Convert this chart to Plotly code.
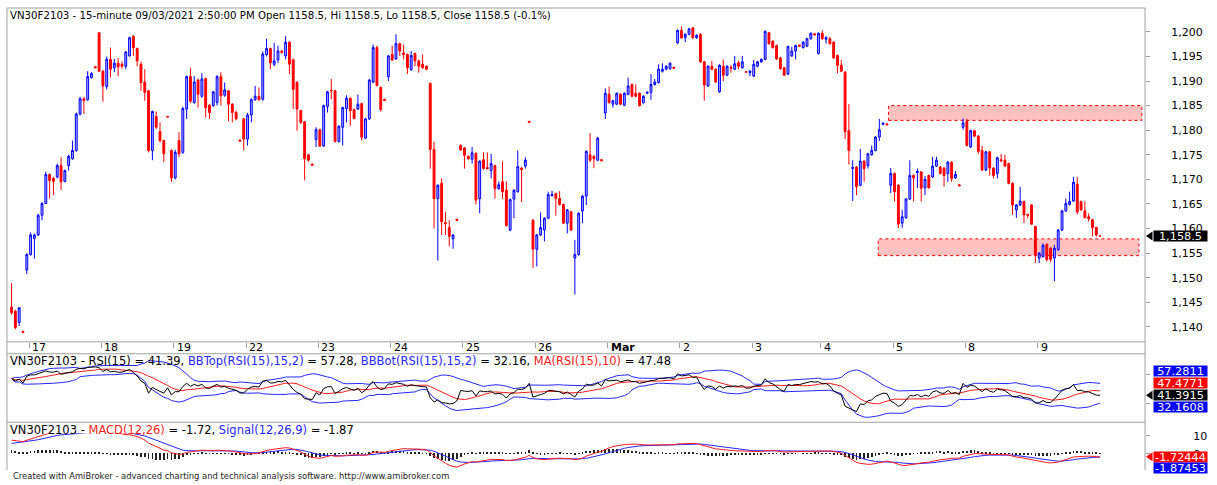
import numpy as np
import pandas as pd
import plotly.graph_objects as go

# ---------------- data (15-minute bars, VN30F2103) ----------------
OPEN = [
    1144.0, 1143.2, 1140.9, 1139.1,
    1151.6, 1154.7, 1158.0, 1158.7, 1162.7, 1165.1, 1171.0, 1170.2, 1170.5, 1172.8, 1169.6, 1172.8, 1174.2, 1175.9, 1183.3, 1186.4, 1186.2, 1190.7, 1192.9,
    1199.8, 1192.0, 1188.9, 1194.4, 1192.7, 1193.6, 1193.4, 1193.0, 1195.1, 1199.1, 1196.6, 1193.4, 1189.8, 1188.0, 1175.9, 1182.8, 1179.7, 1177.9, 1182.8,
    1175.9, 1170.3, 1177.9, 1175.5, 1184.3, 1190.9, 1185.6, 1190.2, 1186.9, 1190.5, 1185.1, 1185.0, 1185.6, 1190.9, 1187.1, 1188.0, 1185.3, 1183.6, 1178.0,
    1182.3, 1178.2, 1183.1, 1186.2, 1186.9, 1186.3, 1195.4, 1196.6, 1193.4, 1194.3, 1196.1, 1195.1, 1197.9, 1194.3, 1189.7, 1184.0, 1181.7, 1175.0, 1173.1,
    1178.1, 1180.1, 1176.8, 1184.8, 1188.1, 1188.0, 1177.7, 1180.6, 1184.4, 1186.5, 1184.2, 1184.3, 1185.4, 1178.4, 1182.3, 1189.8, 1196.8, 1188.7, 1186.3,
    1190.9, 1195.4, 1194.5, 1197.6, 1195.7, 1195.4, 1192.3, 1195.6, 1194.1, 1193.4, 1193.0, 1189.5, 1176.1, 1166.1, 1169.2, 1161.2, 1160.2, 1157.9, 1161.9,
    1176.9, 1176.4, 1174.7, 1174.1, 1175.3, 1166.1, 1174.0, 1172.4, 1171.8, 1172.8, 1168.1, 1169.5, 1167.8, 1159.7, 1166.0, 1167.5, 1172.3, 1172.7, 1181.8,
    1161.7, 1155.8, 1158.7, 1159.7, 1162.1, 1166.7, 1167.1, 1166.1, 1164.9, 1161.1, 1163.4, 1154.0, 1154.7, 1163.6, 1166.6, 1175.0, 1174.7, 1173.9, 1174.0,
    1183.5, 1187.3, 1185.3, 1185.3, 1187.3, 1185.1, 1187.3, 1189.3, 1187.5, 1187.5, 1185.6, 1187.5, 1187.7, 1189.3, 1189.7, 1192.0, 1192.4, 1192.5, 1192.8,
    1197.8, 1200.3, 1198.8, 1199.5, 1200.8, 1198.8, 1199.5, 1193.9, 1189.0, 1193.0, 1192.4, 1187.8, 1193.0, 1191.2, 1192.8, 1192.4, 1193.7, 1192.7, 1191.9,
    1191.7, 1191.0, 1193.0, 1193.9, 1194.4, 1199.8, 1198.1, 1197.2, 1194.7, 1192.7, 1191.4, 1195.1, 1196.1, 1197.3, 1196.8, 1197.1, 1198.6, 1199.6,
    1195.6, 1199.7, 1198.5, 1198.6, 1197.9, 1195.2, 1193.2, 1191.8, 1179.9, 1172.2, 1172.5, 1168.8, 1173.7, 1172.8, 1175.0, 1175.9, 1178.6, 1181.2, 1181.3,
    1168.8, 1171.2, 1168.8, 1161.1, 1162.2, 1166.0, 1170.8, 1171.4, 1171.5, 1168.3, 1170.8, 1170.5, 1172.7, 1172.5, 1172.3, 1171.2, 1173.5, 1170.3, 1168.9,
    1180.6, 1181.8, 1176.6, 1179.9, 1178.8, 1175.9, 1171.9, 1175.6, 1172.3, 1171.2, 1174.0, 1173.9, 1173.2, 1169.2, 1163.8, 1164.8, 1165.5, 1162.9, 1164.8,
    1160.4, 1154.0, 1154.3, 1156.8, 1156.0, 1154.0, 1155.7, 1159.7, 1163.6, 1164.9, 1165.6, 1169.0, 1165.5, 1163.6, 1162.4, 1161.8, 1160.2, 1158.5,
]
HIGH = [
    1148.9, 1143.5, 1144.0, 1139.2,
    1155.0, 1159.2, 1159.0, 1163.0, 1165.4, 1171.6, 1171.2, 1170.5, 1173.2, 1174.5, 1172.0, 1175.0, 1177.9, 1183.6, 1186.8, 1186.8, 1192.0, 1191.8, 1193.0,
    1199.9, 1192.2, 1195.0, 1196.8, 1194.5, 1194.7, 1194.0, 1196.1, 1199.0, 1199.3, 1196.8, 1194.0, 1192.4, 1188.2, 1184.0, 1183.8, 1181.6, 1178.1, 1182.9,
    1176.1, 1176.0, 1179.6, 1184.8, 1191.1, 1192.7, 1191.0, 1190.5, 1191.6, 1190.7, 1185.3, 1188.0, 1191.2, 1191.8, 1189.7, 1188.2, 1185.5, 1184.0, 1178.1,
    1182.5, 1183.5, 1186.5, 1189.0, 1188.7, 1196.0, 1198.6, 1196.8, 1197.8, 1197.2, 1196.3, 1199.1, 1198.1, 1194.6, 1190.0, 1184.2, 1181.9, 1175.2, 1173.2,
    1180.6, 1180.3, 1185.2, 1188.0, 1190.4, 1188.2, 1181.0, 1184.8, 1187.1, 1186.7, 1184.4, 1187.3, 1185.6, 1182.5, 1190.4, 1197.4, 1197.2, 1188.9, 1186.4,
    1195.3, 1197.2, 1199.5, 1197.8, 1197.4, 1195.6, 1196.1, 1195.8, 1194.3, 1195.4, 1193.2, 1189.7, 1177.7, 1169.0, 1170.2, 1163.4, 1161.7, 1158.9, 1162.0,
    1177.1, 1176.6, 1174.9, 1176.6, 1175.5, 1173.9, 1175.5, 1175.5, 1175.2, 1173.0, 1169.6, 1173.7, 1169.6, 1166.1, 1168.0, 1175.9, 1172.5, 1174.5, 1181.9,
    1161.9, 1158.9, 1163.3, 1162.3, 1167.5, 1167.7, 1167.3, 1167.6, 1165.1, 1164.0, 1163.6, 1157.7, 1163.3, 1166.8, 1175.9, 1179.4, 1174.9, 1178.6, 1174.1,
    1188.5, 1188.9, 1186.2, 1187.7, 1187.5, 1187.7, 1190.7, 1189.5, 1189.3, 1187.7, 1187.1, 1187.9, 1191.4, 1190.4, 1193.4, 1193.6, 1193.2, 1193.8, 1192.9,
    1200.5, 1201.1, 1199.7, 1200.8, 1201.0, 1199.5, 1199.7, 1194.1, 1193.2, 1194.1, 1192.6, 1193.4, 1194.4, 1193.2, 1193.2, 1195.1, 1194.1, 1195.1, 1192.0,
    1192.2, 1194.3, 1194.1, 1194.6, 1200.3, 1200.0, 1198.3, 1197.4, 1194.9, 1192.9, 1197.2, 1197.0, 1197.4, 1197.4, 1198.1, 1198.8, 1199.9, 1199.7,
    1199.9, 1200.3, 1199.1, 1199.0, 1198.1, 1195.4, 1194.3, 1192.0, 1185.3, 1173.9, 1172.7, 1176.2, 1173.9, 1175.4, 1176.9, 1178.8, 1182.3, 1181.6, 1181.4,
    1172.3, 1171.4, 1169.0, 1163.8, 1166.2, 1173.9, 1171.0, 1172.2, 1171.7, 1170.7, 1171.0, 1174.6, 1174.6, 1172.7, 1172.5, 1173.7, 1173.7, 1171.7, 1169.0,
    1182.4, 1182.3, 1180.1, 1180.1, 1179.0, 1176.8, 1175.8, 1175.8, 1172.5, 1174.6, 1175.2, 1175.0, 1173.4, 1169.4, 1165.0, 1168.5, 1165.7, 1163.0, 1165.0,
    1160.6, 1155.2, 1157.0, 1157.0, 1156.2, 1156.7, 1159.9, 1163.8, 1166.1, 1167.5, 1170.5, 1170.5, 1165.7, 1165.5, 1163.1, 1162.0, 1160.4, 1158.5,
]
LOW = [
    1142.5, 1139.5, 1140.2, 1138.8,
    1150.8, 1154.5, 1153.9, 1158.5, 1161.7, 1165.0, 1166.1, 1166.8, 1170.2, 1167.8, 1169.4, 1171.8, 1174.0, 1175.6, 1183.0, 1183.3, 1186.0, 1190.5, 1192.6,
    1191.8, 1185.8, 1188.3, 1190.7, 1191.8, 1191.0, 1192.5, 1192.4, 1195.0, 1195.1, 1193.0, 1188.0, 1186.0, 1175.5, 1173.9, 1180.2, 1177.5, 1173.5, 1182.6,
    1169.5, 1170.0, 1174.5, 1175.2, 1182.3, 1185.5, 1185.4, 1184.6, 1186.6, 1182.6, 1182.3, 1184.7, 1185.0, 1185.0, 1186.8, 1181.8, 1181.6, 1182.0, 1177.7,
    1175.9, 1176.9, 1181.6, 1186.0, 1186.0, 1186.0, 1195.0, 1192.4, 1193.0, 1193.7, 1195.6, 1194.4, 1191.4, 1184.3, 1179.9, 1181.3, 1169.8, 1173.6, 1172.8,
    1176.6, 1176.6, 1176.6, 1183.6, 1186.3, 1177.5, 1177.5, 1176.9, 1181.6, 1180.9, 1182.2, 1184.1, 1177.9, 1178.2, 1182.1, 1189.6, 1188.9, 1183.8, 1186.0,
    1190.0, 1194.1, 1194.3, 1195.1, 1194.4, 1191.4, 1192.1, 1193.0, 1191.7, 1192.5, 1192.2, 1172.2, 1160.0, 1153.5, 1158.7, 1158.7, 1156.4, 1155.9, 1161.6,
    1175.8, 1172.2, 1174.0, 1173.2, 1164.9, 1163.1, 1172.0, 1172.0, 1170.2, 1166.1, 1167.9, 1166.0, 1160.4, 1159.5, 1162.1, 1167.3, 1165.4, 1172.2, 1181.5,
    1152.0, 1152.3, 1158.5, 1157.4, 1161.9, 1166.5, 1162.6, 1164.7, 1160.9, 1159.0, 1159.5, 1146.6, 1154.5, 1161.1, 1164.8, 1173.5, 1172.3, 1173.7, 1173.7,
    1182.3, 1185.4, 1184.6, 1185.1, 1185.1, 1184.9, 1187.1, 1186.7, 1186.7, 1184.8, 1185.4, 1187.4, 1186.2, 1189.1, 1189.5, 1191.7, 1192.2, 1192.3, 1192.5,
    1197.5, 1198.6, 1197.9, 1199.3, 1198.6, 1198.6, 1193.7, 1186.0, 1188.8, 1192.2, 1189.6, 1187.6, 1190.0, 1191.0, 1191.7, 1192.2, 1192.4, 1192.5, 1191.7,
    1191.0, 1190.8, 1192.8, 1193.7, 1194.2, 1197.4, 1196.6, 1194.3, 1192.3, 1191.0, 1191.2, 1194.9, 1194.4, 1197.0, 1196.6, 1196.9, 1198.4, 1199.3,
    1195.4, 1198.4, 1197.6, 1197.4, 1194.5, 1191.6, 1191.8, 1178.2, 1173.0, 1165.6, 1166.8, 1168.6, 1169.5, 1172.2, 1174.8, 1175.7, 1177.8, 1181.0, 1181.0,
    1167.2, 1165.5, 1160.1, 1160.1, 1162.0, 1165.8, 1165.5, 1168.2, 1165.5, 1166.8, 1168.1, 1170.3, 1172.5, 1171.0, 1168.5, 1169.5, 1169.5, 1170.1, 1168.6,
    1180.1, 1176.7, 1176.4, 1178.6, 1175.2, 1171.7, 1171.7, 1170.8, 1170.2, 1170.2, 1173.5, 1172.5, 1169.0, 1162.8, 1162.2, 1164.6, 1161.1, 1162.1, 1160.7,
    1153.0, 1153.0, 1154.1, 1153.3, 1153.2, 1149.3, 1155.5, 1159.5, 1163.4, 1164.7, 1165.4, 1162.9, 1163.6, 1162.1, 1161.4, 1158.4, 1158.4, 1158.5,
]
CLOSE = [
    1142.9, 1139.9, 1143.9, 1138.9,
    1154.7, 1158.7, 1158.7, 1162.7, 1165.1, 1171.0, 1169.8, 1169.6, 1172.8, 1169.5, 1171.8, 1174.7, 1175.9, 1183.3, 1186.4, 1186.0, 1190.9, 1191.5, 1192.7,
    1192.0, 1189.0, 1194.4, 1192.4, 1193.6, 1192.9, 1193.0, 1195.9, 1198.8, 1196.8, 1194.1, 1189.7, 1187.7, 1175.9, 1183.8, 1180.6, 1177.9, 1175.2, 1182.7,
    1170.3, 1175.5, 1175.2, 1184.4, 1190.9, 1185.9, 1189.8, 1187.3, 1190.4, 1184.6, 1183.6, 1187.8, 1190.9, 1187.0, 1188.2, 1185.3, 1183.6, 1182.3, 1177.8,
    1178.2, 1183.1, 1186.2, 1186.9, 1186.2, 1195.5, 1196.6, 1193.7, 1194.1, 1196.1, 1195.8, 1197.9, 1193.4, 1188.3, 1184.3, 1181.6, 1174.2, 1173.9, 1172.9,
    1180.1, 1176.8, 1185.0, 1187.8, 1188.0, 1177.7, 1180.8, 1184.6, 1186.5, 1184.0, 1182.4, 1185.3, 1178.6, 1182.3, 1190.2, 1196.8, 1189.1, 1184.2, 1186.1,
    1195.1, 1194.3, 1197.6, 1196.1, 1195.4, 1192.7, 1195.2, 1194.1, 1193.0, 1192.7, 1192.4, 1176.1, 1166.1, 1168.8, 1161.4, 1161.0, 1158.4, 1158.7, 1161.7,
    1176.0, 1174.9, 1174.2, 1175.4, 1165.8, 1173.7, 1172.2, 1172.2, 1173.2, 1168.1, 1168.9, 1167.5, 1160.6, 1165.9, 1167.8, 1172.6, 1172.0, 1173.9, 1181.6,
    1155.8, 1158.7, 1160.2, 1162.1, 1166.9, 1166.9, 1166.1, 1164.9, 1161.1, 1163.8, 1159.7, 1154.7, 1163.1, 1166.6, 1175.7, 1173.9, 1174.2, 1178.4, 1173.8,
    1187.5, 1185.6, 1186.0, 1187.5, 1185.3, 1187.5, 1189.0, 1186.9, 1186.9, 1185.0, 1186.9, 1187.7, 1189.3, 1189.8, 1192.4, 1192.4, 1193.0, 1193.6, 1192.6,
    1200.3, 1198.8, 1199.5, 1200.6, 1198.8, 1199.3, 1193.9, 1189.2, 1193.0, 1192.4, 1189.8, 1193.2, 1191.2, 1193.0, 1192.6, 1193.5, 1193.0, 1193.9, 1191.8,
    1192.0, 1193.4, 1193.9, 1194.4, 1200.1, 1197.6, 1196.8, 1194.5, 1192.5, 1191.2, 1197.0, 1196.1, 1197.2, 1197.1, 1197.9, 1198.6, 1199.7, 1199.4,
    1199.7, 1198.6, 1198.8, 1197.6, 1194.7, 1193.2, 1192.0, 1179.7, 1175.9, 1172.4, 1168.5, 1173.7, 1172.2, 1175.2, 1175.9, 1178.6, 1180.1, 1181.4, 1181.1,
    1171.2, 1167.5, 1160.9, 1162.4, 1166.0, 1170.8, 1170.3, 1171.6, 1168.2, 1170.0, 1168.3, 1172.7, 1173.9, 1171.2, 1170.8, 1173.5, 1170.2, 1171.0, 1168.7,
    1181.5, 1176.9, 1179.9, 1178.8, 1175.7, 1171.9, 1175.6, 1172.3, 1170.8, 1174.4, 1173.8, 1172.7, 1169.2, 1164.8, 1164.8, 1165.6, 1162.8, 1162.7, 1160.9,
    1154.7, 1155.0, 1156.6, 1153.7, 1153.7, 1156.0, 1159.7, 1163.6, 1165.1, 1165.5, 1169.4, 1163.4, 1163.8, 1162.2, 1162.0, 1160.2, 1158.7, 1158.5,
]

# first bar index of each session and its axis label
DAY_START = [4, 23, 42, 61, 80, 99, 118, 137, 156, 175, 194, 212, 231, 250, 269]
DAY_LABELS = ["17", "18", "19", "22", "23", "24", "25", "26", "<b>Mar</b>", "2", "3", "4", "5", "8", "9"]
PRICE_TICKS = [1140, 1145, 1150, 1155, 1160, 1165, 1170, 1175, 1180, 1185, 1190, 1195, 1200]

# drawn supply / demand zones (bar index span, price span)
ZONE_START = [230.4, 227.7]
ZONE_END = [297.0, 296.2]
ZONE_LOW = [1182.0, 1154.5]
ZONE_HIGH = [1185.0, 1157.9]

# values printed by AmiBroker for the last bar
RSI_LAST, BBTOP_LAST, BBBOT_LAST, MA_LAST = 41.3915, 57.2811, 32.1608, 47.4771
MACD_LAST, SIGNAL_LAST = -1.72444, -1.87453
CHANGE_TEXT = "(-0.1%)"

# indicator levels read at the left edge of the panes (history before the first bar)
RSI_FIRST = 64.5
MACD_FIRST, SIGNAL_FIRST = 7.6, 5.75

# ---------------- indicators ----------------
close = pd.Series(CLOSE, dtype=float)
N = len(close)
idx = np.arange(N)

delta = close.diff().fillna(0.0)
gain = delta.clip(lower=0.0).values
loss = (-delta).clip(lower=0.0).values
P = 15
mean_move = np.abs(delta.values[1:P + 1]).mean()
ag = mean_move * RSI_FIRST / 100.0
al = mean_move * (1.0 - RSI_FIRST / 100.0)
rsi_vals = []
for i in range(N):
    if i > 0:
        ag = (ag * (P - 1) + gain[i]) / P
        al = (al * (P - 1) + loss[i]) / P
    rsi_vals.append(100.0 * ag / (ag + al) if (ag + al) > 0 else 50.0)
rsi = pd.Series(rsi_vals)
bb_mid = rsi.rolling(15, min_periods=1).mean()
bb_sd = rsi.rolling(15, min_periods=1).std(ddof=0).fillna(0.0)
bb_top = bb_mid + 2 * bb_sd
bb_bot = bb_mid - 2 * bb_sd
rsi_ma = rsi.rolling(10, min_periods=1).mean()


def ema(values, span, seed):
    a = 2.0 / (span + 1.0)
    out, e = [], seed
    for k, v in enumerate(values):
        if k > 0:
            e = a * v + (1 - a) * e
        out.append(e)
    return pd.Series(out)


# split the starting MACD between the two averages like trend lag (5.5 : 12.5 bars)
slope0 = MACD_FIRST / 7.0
ema12 = ema(close.values, 12, close.iloc[0] - 5.5 * slope0)
ema26 = ema(close.values, 26, close.iloc[0] - 12.5 * slope0)
macd = ema12 - ema26
signal = ema(macd.values, 9, SIGNAL_FIRST)
hist = macd - signal

# ---------------- figure ----------------
FONT = "DejaVu Sans"
BLUE = "#2626ff"
RED = "#ff1a1a"
GRAY = "#a0a0a0"

W, H = 1217, 485
ML, MR, MT, MB = 7, 72, 5, 15
PW, PH = W - ML - MR, H - MT - MB


def py(p):  # pixel row -> paper y
    return (H - MB - p) / PH


def px(p):  # pixel column -> paper x
    return (p - ML) / PW


XR = [-1.2, 297.8]
Y1_DOM = [py(341), 1.0]
Y1_RANGE = [1136.97, 1204.85]
Y2_DOM = [py(422), py(353)]
Y2_RANGE = [3.79, 98.97]
Y3_DOM = [0.0, py(433)]
Y3_RANGE = [-9.16, 11.5]

fig = go.Figure()
fig.add_trace(go.Candlestick(
    x=idx, open=OPEN, high=HIGH, low=LOW, close=CLOSE,
    increasing=dict(line=dict(color="#0000ff", width=1), fillcolor="#a8a8ff"),
    decreasing=dict(line=dict(color="#ff0000", width=1), fillcolor="#ff0000"),
    whiskerwidth=0, xaxis="x", yaxis="y", hoverinfo="skip", name="Price"))

for ser, col in [(bb_top, BLUE), (bb_bot, BLUE), (rsi_ma, RED), (rsi, "#000000")]:
    fig.add_trace(go.Scatter(x=idx, y=ser, mode="lines", line=dict(color=col, width=1),
                             xaxis="x2", yaxis="y2", hoverinfo="skip"))

fig.add_trace(go.Bar(x=idx, y=hist, width=0.2, marker=dict(color="#222222", line=dict(width=0)),
                     xaxis="x3", yaxis="y3", hoverinfo="skip"))
fig.add_trace(go.Scatter(x=idx, y=signal, mode="lines", line=dict(color=BLUE, width=1),
                         xaxis="x3", yaxis="y3", hoverinfo="skip"))
fig.add_trace(go.Scatter(x=idx, y=macd, mode="lines", line=dict(color=RED, width=1),
                         xaxis="x3", yaxis="y3", hoverinfo="skip"))

shapes = []
for x0, x1, y0, y1 in zip(ZONE_START, ZONE_END, ZONE_LOW, ZONE_HIGH):
    shapes.append(dict(type="rect", xref="x", yref="y", x0=x0, x1=x1, y0=y0, y1=y1,
                       fillcolor="#ffc0c0", line=dict(color="#ff0000", width=1, dash="dot"),
                       layer="below"))
# pane frames
for p in [5, 341, 353, 422]:
    shapes.append(dict(type="line", xref="paper", yref="paper", x0=0, x1=1, y0=py(p), y1=py(p),
                       line=dict(color=GRAY, width=1)))
for xx in [0, 1]:
    shapes.append(dict(type="line", xref="paper", yref="paper", x0=xx, x1=xx, y0=0, y1=1,
                       line=dict(color=GRAY, width=1)))


def arrow(yref, yval, unit_px, color):
    h = 4.5 / unit_px
    xt, xb = px(1146.0), px(1152.5)
    return dict(type="path", xref="paper", yref=yref,
                path=f"M {xt},{yval} L {xb},{yval + h} L {xb},{yval - h} Z",
                fillcolor=color, line=dict(width=0))


u1 = (Y1_DOM[1] - Y1_DOM[0]) * PH / (Y1_RANGE[1] - Y1_RANGE[0])
u2 = (Y2_DOM[1] - Y2_DOM[0]) * PH / (Y2_RANGE[1] - Y2_RANGE[0])
u3 = (Y3_DOM[1] - Y3_DOM[0]) * PH / (Y3_RANGE[1] - Y3_RANGE[0])
shapes.append(arrow("y", CLOSE[-1], u1, "#000000"))
shapes.append(arrow("y2", RSI_LAST, u2, "#000000"))
shapes.append(arrow("y3", MACD_LAST, u3, "#ff0000"))

ann = []


def box(text, yref, yval, color, yshift=0, x0=1152.5, w=53):
    return dict(xref="paper", x=px(x0), xanchor="left", yref=yref, y=yval, yanchor="middle",
                yshift=yshift, text=text, showarrow=False, bgcolor=color, width=w, height=10,
                borderpad=0, align="center", font=dict(family=FONT, size=11.3, color="white"))


ann.append(box(f"{CLOSE[-1]:,.1f}", "y", CLOSE[-1], "#000000"))
ann.append(box(f"{BBTOP_LAST:.4f}", "y2", RSI_LAST, "#0000ff", yshift=24))
ann.append(box(f"{MA_LAST:.4f}", "y2", RSI_LAST, "#ff0000", yshift=12))
ann.append(box(f"{RSI_LAST:.4f}", "y2", RSI_LAST, "#000000", yshift=0))
ann.append(box(f"{BBBOT_LAST:.4f}", "y2", RSI_LAST, "#0000ff", yshift=-12))
ann.append(box(f"{MACD_LAST:.5f}", "y3", MACD_LAST, "#ff0000", yshift=0))
ann.append(box(f"{SIGNAL_LAST:.5f}", "y3", MACD_LAST, "#0000ff", yshift=-11.5))

# date labels right of each session tick
for d, lab in zip(DAY_START, DAY_LABELS):
    ann.append(dict(xref="x", x=d + 0.6, xanchor="left", xshift=1, yref="paper", y=py(347),
                    yanchor="middle", text=lab, showarrow=False,
                    font=dict(family=FONT, size=11, color="#000000")))

o, h, l, c = OPEN[-1], HIGH[-1], LOW[-1], CLOSE[-1]
title_main = (f"VN30F2103 - 15-minute 09/03/2021 2:50:00 PM Open {o}, Hi {h}, Lo {l}, "
              f"Close {c} {CHANGE_TEXT}")
title_rsi = (f"VN30F2103 - RSI(15) = {RSI_LAST:.2f}, "
             f"<span style='color:{BLUE}'>BBTop(RSI(15),15,2)</span> = {BBTOP_LAST:.2f}, "
             f"<span style='color:{BLUE}'>BBBot(RSI(15),15,2)</span> = {BBBOT_LAST:.2f}, "
             f"<span style='color:{RED}'>MA(RSI(15),10)</span> = {MA_LAST:.2f}")
title_macd = (f"VN30F2103 - <span style='color:{RED}'>MACD(12,26)</span> = {MACD_LAST:.2f}, "
              f"<span style='color:{BLUE}'>Signal(12,26,9)</span> = {SIGNAL_LAST:.2f}")
for txt, p, fs in [(title_main, 13, 10.2), (title_rsi, 360, 11.5), (title_macd, 430, 11.5)]:
    ann.append(dict(xref="paper", x=px(8), xanchor="left", yref="paper", y=py(p), yanchor="middle",
                    text=txt, showarrow=False, font=dict(family=FONT, size=fs, color="#000000")))
ann.append(dict(xref="paper", x=px(11), xanchor="left", yref="paper", y=py(476.5), yanchor="middle",
                text="Created with AmiBroker - advanced charting and technical analysis software. "
                     "http://www.amibroker.com",
                showarrow=False, font=dict(family=FONT, size=8.4, color="#222222")))

axis_common = dict(showgrid=False, zeroline=False, fixedrange=True)
fig.update_layout(
    width=W, height=H, margin=dict(l=ML, r=MR, t=MT, b=MB),
    paper_bgcolor="white", plot_bgcolor="white", showlegend=False, bargap=0,
    xaxis=dict(domain=[0, 1], range=XR, anchor="y", tickvals=[d + 0.6 for d in DAY_START],
               ticks="outside", ticklen=5, tickcolor=GRAY, showticklabels=False,
               rangeslider=dict(visible=False), showline=False, **axis_common),
    yaxis=dict(domain=Y1_DOM, range=Y1_RANGE, side="right", anchor="x", tickvals=PRICE_TICKS,
               ticktext=[f"{v:,}" for v in PRICE_TICKS], ticks="outside", ticklen=4, tickcolor=GRAY,
               ticklabelstandoff=19, tickfont=dict(family=FONT, size=11, color="#000000"),
               showline=False, **axis_common),
    xaxis2=dict(domain=[0, 1], range=XR, anchor="y2", visible=False, **axis_common),
    yaxis2=dict(domain=Y2_DOM, range=Y2_RANGE, side="right", anchor="x2", tickvals=[30, 70],
                showticklabels=False, ticks="outside", ticklen=4, tickcolor=GRAY, showline=False,
                **axis_common),
    xaxis3=dict(domain=[0, 1], range=XR, anchor="y3", visible=False, **axis_common),
    yaxis3=dict(domain=Y3_DOM, range=Y3_RANGE, side="right", anchor="x3", tickvals=[0, 10],
                ticktext=["0", "10"], ticks="outside", ticklen=4, tickcolor=GRAY,
                ticklabelstandoff=41, tickfont=dict(family=FONT, size=11, color="#000000"),
                showline=False, **axis_common),
    shapes=shapes, annotations=ann,
)

fig.write_html("out.html", config={"displayModeBar": False},
               post_script="document.body.style.margin='0';document.body.style.overflow='hidden';")
